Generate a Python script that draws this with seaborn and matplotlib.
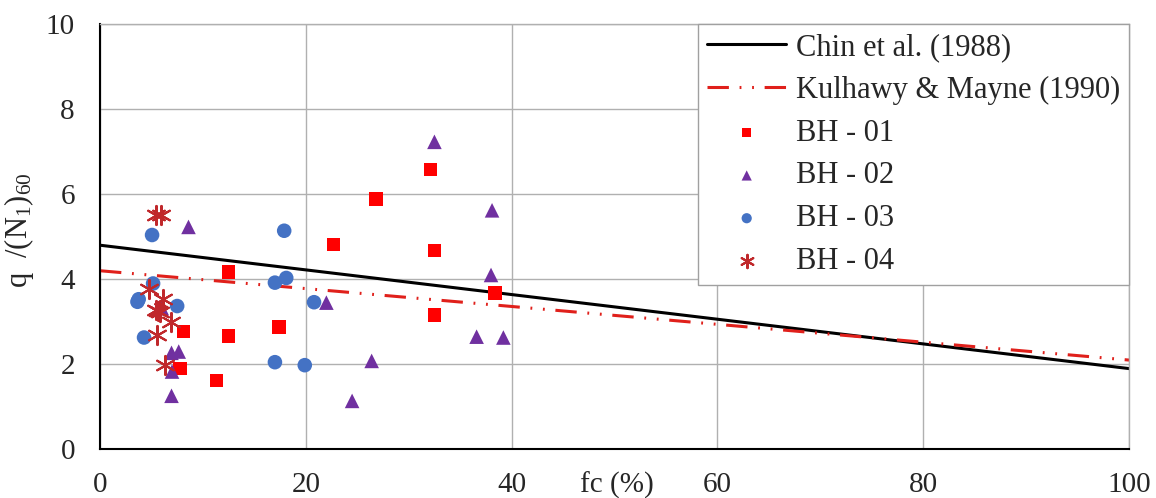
import matplotlib.pyplot as plt
import seaborn as sns

# trend lines (end points)
fc_line = [0, 100]
chin_q = [4.8, 1.9]
kulhawy_q = [4.2, 2.1]

# borehole data: fines content (%) vs q/(N1)60
bh01_fc = [7.8, 8.1, 11.3, 12.5, 12.5, 17.4, 22.7, 26.8, 32.1, 32.5, 32.5, 38.4]
bh01_q = [1.90, 2.77, 1.62, 2.66, 4.17, 2.88, 4.82, 5.88, 6.58, 4.68, 3.16, 3.68]

bh02_fc = [8.6, 6.0, 6.95, 7.65, 7.0, 6.95, 22.0, 26.4, 24.5, 32.5, 38.1, 38.0, 36.6, 39.2]
bh02_q = [5.23, 3.32, 2.27, 2.30, 1.83, 1.26, 3.45, 2.08, 1.14, 7.23, 5.62, 4.10, 2.65, 2.63]

bh03_fc = [5.06, 5.16, 3.64, 3.76, 7.5, 4.28, 17.9, 18.1, 17.0, 20.8, 17.0, 19.9]
bh03_q = [5.04, 3.90, 3.47, 3.53, 3.37, 2.63, 5.14, 4.03, 3.92, 3.46, 2.05, 1.98]

bh04_fc = [5.4, 5.9, 4.74, 6.13, 5.4, 5.8, 5.6, 6.9, 5.55, 6.3]
bh04_q = [5.50, 5.50, 3.76, 3.53, 3.28, 3.23, 3.25, 3.00, 2.70, 1.98]

sns.set_style("white")
plt.rcParams['font.family'] = ['Liberation Serif', 'DejaVu Serif']
plt.rcParams['mathtext.default'] = 'regular'

fig = plt.figure(figsize=(11.56, 4.98), dpi=100)
ax = fig.add_axes([100 / 1156, 1 - 449.4 / 498, 1029 / 1156, 425.4 / 498])

sns.lineplot(x=fc_line, y=chin_q, color='black', lw=2.2, ax=ax,
             label='Chin et al. (1988)', zorder=2)
sns.lineplot(x=fc_line, y=kulhawy_q, color='#E0201B', lw=2.2, ax=ax,
             linestyle=(0, (7, 3.5, 0.6, 3.5, 0.6, 3.5)),
             label='Kulhawy & Mayne (1990)', zorder=2)

sns.scatterplot(x=bh01_fc, y=bh01_q, marker='s', color='#FF0000', s=95,
                edgecolor='none', ax=ax, label='BH - 01', zorder=3)
sns.scatterplot(x=bh02_fc, y=bh02_q, marker='^', color='#7030A0', s=110,
                edgecolor='none', ax=ax, label='BH - 02', zorder=3)
sns.scatterplot(x=bh03_fc, y=bh03_q, marker='o', color='#4472C4', s=110,
                edgecolor='none', ax=ax, label='BH - 03', zorder=3)
sns.scatterplot(x=bh04_fc, y=bh04_q, marker=(6, 2, 0), color='#C0282B', s=190,
                linewidth=1.5, ax=ax, label='BH - 04', zorder=4)

ax.set_xlim(0, 100)
ax.set_ylim(0, 10)
ax.set_xticks(range(0, 101, 20))
ax.set_yticks(range(0, 11, 2))
ax.grid(True, color='#B0B0B0', lw=1)
ax.tick_params(length=0, labelsize=21)
ax.tick_params(axis='x', pad=16)
ax.tick_params(axis='y', pad=18)

for side in ['left', 'bottom']:
    ax.spines[side].set_color('black')
    ax.spines[side].set_linewidth(1.5)
for side in ['top', 'right']:
    ax.spines[side].set_color('#B0B0B0')
    ax.spines[side].set_linewidth(1)

ax.set_xlabel('fc (%)', fontsize=21, va='center')
ax.xaxis.set_label_coords(0.502, -0.084)
ax.set_ylabel('q  /(N$_1$)$_{60}$', fontsize=22)
ax.yaxis.set_label_coords(-0.062, 0.516)

leg = ax.legend(loc='upper right', bbox_to_anchor=(1, 1), borderaxespad=0,
                fontsize=22, frameon=True, fancybox=False, framealpha=1,
                edgecolor='#A0A0A0', handlelength=2.6, markerscale=0.7,
                labelspacing=0.45, borderpad=0.3, handletextpad=0.3)
leg.get_frame().set_linewidth(1)

plt.savefig('out.png', dpi=100)
